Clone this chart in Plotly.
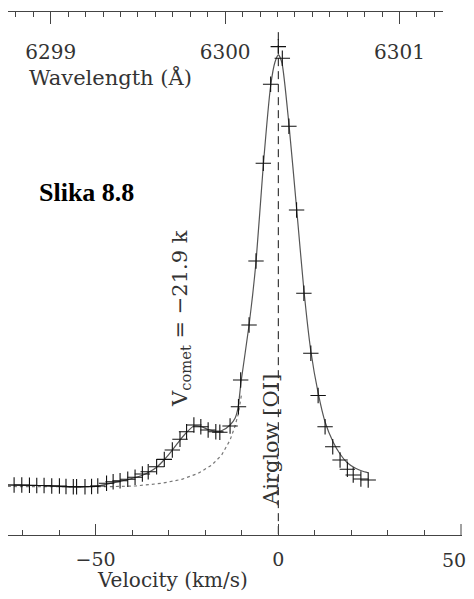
import plotly.graph_objects as go

# ---- data (velocity in km/s, relative intensity in %) ----
obs_velocity = [-72.3, -70.2, -68.1, -66.1, -64.1, -62.0, -59.9, -58.1, -56.1, -55.2,
                -52.9, -51.1, -49.4, -47.0, -45.2, -43.3, -41.2, -39.2, -37.2, -35.6,
                -33.3, -31.2, -29.0, -26.9, -25.1, -23.1, -21.2, -19.2, -17.1, -16.0,
                -13.2, -10.9, -10.3, -8.0, -6.1, -4.1, -2.1, 0.0, 1.1, 2.9,
                5.0, 7.0, 8.9, 10.9, 12.8, 14.9, 16.9, 18.9, 20.5, 22.6, 24.6]
obs_intensity = [0.0, 0.0, -0.07, -0.12, -0.12, -0.23, -0.23, -0.35, -0.40, -0.40,
                 -0.40, -0.35, -0.23, 0.40, 0.77, 1.00, 1.33, 1.80, 2.57, 3.11,
                 4.28, 6.00, 8.18, 10.68, 12.45, 14.02, 13.62, 12.85, 12.45, 12.31,
                 13.79, 18.29, 24.53, 37.38, 52.34, 75.16, 93.62, 102.41, 99.70, 83.81,
                 64.25, 44.79, 30.77, 20.91, 13.62, 8.95, 5.84, 3.67, 2.34, 1.40, 1.17]

fit_velocity = [-74.0, -65.2, -55.1, -48.8, -44.7, -40.6, -37.0, -35.1, -33.2, -31.3,
                -29.1, -26.9, -25.0, -23.1, -21.2, -19.2, -17.3, -15.4, -13.2, -11.8,
                -11.0, -10.2, -8.0, -6.1, -4.1, -2.1, -0.9, 0.05, 1.0, 2.9,
                5.0, 7.0, 8.9, 10.9, 12.8, 15.0, 16.9, 18.8, 21.0, 22.9, 24.6]
fit_intensity = [0.0, -0.12, -0.47, -0.12, 0.58, 1.40, 2.34, 3.15, 4.21, 5.84,
                 8.06, 10.51, 12.38, 13.79, 13.67, 12.97, 12.62, 12.73, 14.02, 15.65,
                 18.11, 24.07, 37.38, 52.10, 74.77, 93.22, 98.83, 100.47, 98.60, 84.35,
                 64.72, 45.56, 31.31, 21.50, 14.72, 10.05, 7.24, 5.26, 3.97, 3.27, 2.87]

airglow_velocity = [-74.0, -59.8, -46.5, -39.2, -31.9, -26.4, -21.9, -18.2, -15.5, -13.2,
                    -11.9, -10.9, -10.1]
airglow_intensity = [-0.35, -0.40, -0.40, -0.23, 0.40, 1.33, 2.73, 4.67, 7.01, 10.51,
                     13.62, 16.75, 21.0]

airglow_rest_velocity = [0.0, 0.0]
airglow_marker_span = [105.8, -11.68]

velocity_ticks = [-50, 0, 50]
velocity_ticktext = ["\u221250", "0", "50"]
wavelength_ticks = [6299, 6300, 6301]
wavelength_ticktext = ["6299", "6300", "6301"]

velocity_range = [-73.97, 50.27]
wavelength_range = [6298.755, 6301.249]
intensity_range = [-11.68, 110.51]

comet_label = "V<sub>comet</sub> = \u221221.9 k"
airglow_label = "Airglow [OI]"
figure_label = "<b>Slika 8.8</b>"
x_title = "Velocity (km/s)"
x2_title = "Wavelength (\u00c5)"

AX = "#444444"
FONT = "DejaVu Serif"
TXT = "#333333"

fig = go.Figure()

fig.add_trace(go.Scatter(x=airglow_velocity, y=airglow_intensity, mode="lines",
                         line=dict(color="#777777", width=1.2, dash="dot"),
                         showlegend=False, hoverinfo="skip"))
fig.add_trace(go.Scatter(x=fit_velocity, y=fit_intensity, mode="lines",
                         line=dict(color="#555555", width=1.2, shape="spline", smoothing=0.6),
                         showlegend=False))
fig.add_trace(go.Scatter(x=airglow_rest_velocity, y=airglow_marker_span, mode="lines",
                         line=dict(color="#111111", width=1, dash="8px,5px"),
                         showlegend=False, hoverinfo="skip"))
fig.add_trace(go.Scatter(x=obs_velocity, y=obs_intensity, mode="markers",
                         marker=dict(symbol="cross-thin", size=11,
                                     line=dict(width=1.1, color="#111111")),
                         showlegend=False))
# invisible trace tying the wavelength axis
fig.add_trace(go.Scatter(x=wavelength_ticks, y=[None] * len(wavelength_ticks),
                         xaxis="x2", yaxis="y", mode="markers", showlegend=False,
                         hoverinfo="skip"))

# the last velocity tick label sits at the window edge: draw it as an annotation nudged inwards
edge_label = dict(text=velocity_ticktext[-1], xref="x", yref="paper",
                  x=velocity_ticks[-1], y=-0.0478, xanchor="center", yanchor="middle",
                  xshift=-7, showarrow=False,
                  font=dict(family=FONT, size=19, color=TXT))

fig.update_layout(
    width=474, height=583,
    margin=dict(l=0, r=20, t=4, b=56),
    paper_bgcolor="white", plot_bgcolor="rgba(0,0,0,0)",
    xaxis=dict(range=velocity_range, showgrid=False, zeroline=False,
               showline=True, linecolor=AX, linewidth=1,
               ticks="inside", ticklen=11, tickcolor=AX, tickwidth=1,
               tickvals=velocity_ticks[:-1], ticktext=velocity_ticktext[:-1],
               minor=dict(ticks="inside", ticklen=5, dtick=10, tick0=0,
                          tickcolor=AX, tickwidth=1, showgrid=False),
               tickfont=dict(family=FONT, size=19, color=TXT),
               ticklabelstandoff=7),
    xaxis2=dict(range=wavelength_range, domain=[0, 0.9581],
                side="top", anchor="y", showgrid=False, zeroline=False,
                showline=True, linecolor=AX, linewidth=1,
                ticks="inside", ticklen=12, tickcolor=AX, tickwidth=1,
                tickvals=wavelength_ticks, ticktext=wavelength_ticktext,
                minor=dict(ticks="inside", ticklen=5, dtick=0.1, tick0=6299,
                           tickcolor=AX, tickwidth=1, showgrid=False),
                ticklabelposition="inside", ticklabeloverflow="allow",
                tickfont=dict(family=FONT, size=20, color=TXT),
                ticklabelstandoff=22),
    yaxis=dict(range=intensity_range, visible=False),
    shapes=[dict(type="line", xref="x", yref="paper",
                 x0=velocity_ticks[-1], x1=velocity_ticks[-1], y0=0, y1=11 / 523,
                 line=dict(color=AX, width=1))],
    annotations=[
        edge_label,
        dict(text=x2_title, xref="paper", yref="paper", x=0.0412, y=0.8757,
             xanchor="left", yanchor="middle", showarrow=False,
             font=dict(family=FONT, size=21, color=TXT)),
        dict(text=x_title, xref="paper", yref="paper", x=0.1916, y=-0.0860,
             xanchor="left", yanchor="middle", showarrow=False,
             font=dict(family=FONT, size=20, color=TXT)),
        dict(text=figure_label, xref="paper", yref="paper", x=0.0639, y=0.6545,
             xanchor="left", yanchor="middle", showarrow=False,
             font=dict(family="Liberation Serif", size=26, color="black")),
        dict(text=comet_label, xref="paper", yref="paper", x=0.381, y=0.4149,
             xanchor="center", yanchor="middle", showarrow=False, textangle=-90,
             font=dict(family=FONT, size=21, color=TXT)),
        dict(text=airglow_label, xref="paper", yref="paper", x=0.5793, y=0.1816,
             xanchor="center", yanchor="middle", showarrow=False, textangle=-90,
             font=dict(family=FONT, size=21, color=TXT)),
    ],
)

fig.write_html("out.html")
